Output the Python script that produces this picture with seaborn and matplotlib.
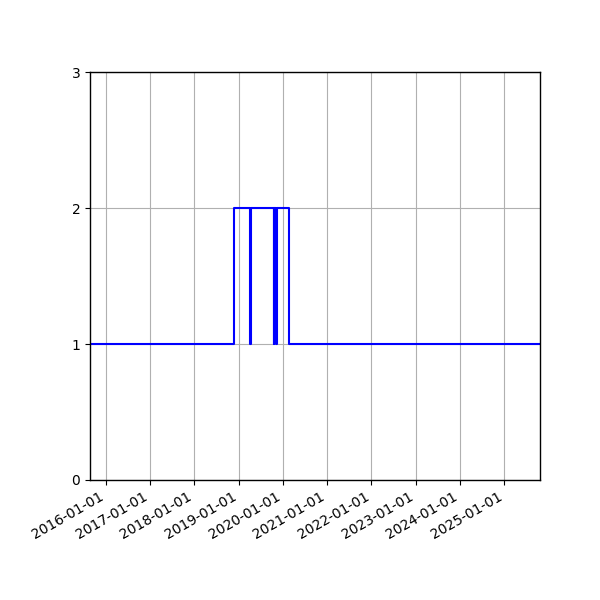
import pandas as pd
import matplotlib
matplotlib.use("Agg")
import matplotlib.pyplot as plt
import matplotlib.dates as mdates
import seaborn as sns

# change points of the series (value holds until next date)
dates = ["2015-08-26", "2018-11-28", "2019-04-07", "2019-04-11",
         "2019-10-17", "2019-10-21", "2019-11-10", "2019-11-14",
         "2020-02-24", "2025-10-21"]
values = [1, 2, 1, 2, 1, 2, 1, 2, 1, 1]

df = pd.DataFrame({"date": pd.to_datetime(dates), "value": values})

sns.set_style("ticks")
plt.rcParams["font.family"] = ["DejaVu Sans"]

fig, ax = plt.subplots(figsize=(6, 6), dpi=100)
sns.lineplot(data=df, x="date", y="value", ax=ax, color="blue",
             drawstyle="steps-post", linewidth=1.5)

ax.set_xlim(df["date"].iloc[0], df["date"].iloc[-1])
ax.set_ylim(0, 3)
ax.set_yticks([0, 1, 2, 3])
ax.xaxis.set_major_locator(mdates.YearLocator())
ax.xaxis.set_major_formatter(mdates.DateFormatter("%Y-%m-%d"))
ax.set_xlabel("")
ax.set_ylabel("")
ax.grid(True, color="#b0b0b0", linewidth=0.8)
for s in ax.spines.values():
    s.set_visible(True)
    s.set_color("black")
    s.set_linewidth(1.0)
ax.tick_params(colors="black", length=3.5, width=0.8)

fig.autofmt_xdate()
fig.subplots_adjust(left=0.15, right=0.9, top=0.88, bottom=0.2)
fig.savefig("out.png", dpi=100)
